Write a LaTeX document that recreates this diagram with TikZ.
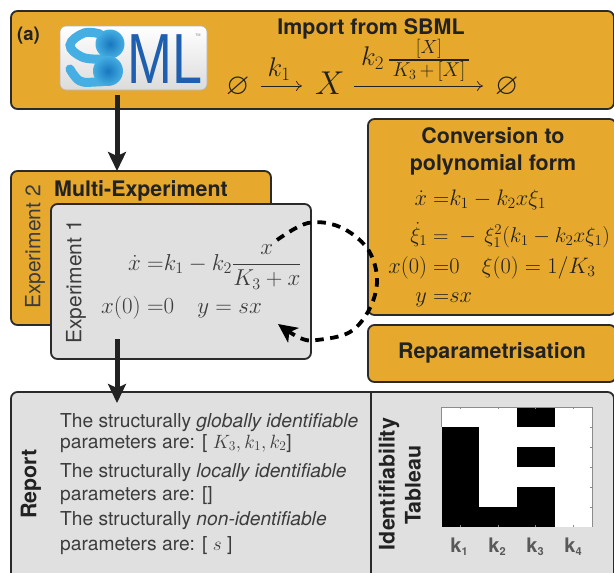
\documentclass[tikz,border=0pt]{standalone}
\usepackage{amsmath,amssymb}
\usepackage{fix-cm}
\usepackage[no-math]{fontspec}
\setmainfont{TeX Gyre Heros}
\newfontfamily\logofont{Liberation Sans}
\usetikzlibrary{arrows.meta,calc}
\definecolor{orangebox}{HTML}{E6A92E}
\definecolor{greybox}{HTML}{E0E0E0}
\definecolor{edge}{HTML}{2A2A2A}
\definecolor{ink}{HTML}{222222}
\definecolor{greyink}{HTML}{3C3C3C}
\definecolor{logoblue}{HTML}{1F5FB0}
\definecolor{logolight}{HTML}{45AEE2}
\definecolor{logodark}{HTML}{1877BE}
\newcommand{\fs}[1]{\fontsize{#1}{#1}\selectfont}
\tikzset{
 box/.style={draw=edge,line width=1.8pt,rounded corners=6.5pt,anchor=north west,inner sep=0pt,outer sep=0pt},
 obox/.style={box,fill=orangebox},
 gbox/.style={box,fill=greybox},
 title/.style={font=\fs{21.4}\bfseries,text=ink,inner sep=0pt,anchor=base},
 eq/.style={font=\fs{22.4},text=ink,inner sep=0pt,anchor=base west},
 geq/.style={font=\fs{23},text=greyink,inner sep=0pt,anchor=base west},
 rep/.style={font=\fs{19.2},text=greyink,inner sep=0pt,anchor=base west},
 exper/.style={font=\fs{21},text=greyink,inner sep=0pt,rotate=90},
 klab/.style={font=\fs{20}\bfseries,text=greyink!85,inner sep=0pt,anchor=base},
 bigarrow/.style={line width=5pt,draw=ink,-{Stealth[length=19pt,width=18pt,inset=4pt]}},
 rxn/.style={line width=.7pt,draw=ink,-{To[length=6pt,width=10pt]}},
 cell/.style={fill=black,draw=none}
}
\begin{document}
\begin{tikzpicture}[x=1pt,y=-1pt]
\clip (0,0) rectangle (614,573);
% boxes
\node[obox,minimum width=603pt,minimum height=98pt] (import) at (11,11) {};
\node[obox,minimum width=260pt,minimum height=154pt] (multi) at (11,171) {};
\node[gbox,minimum width=260pt,minimum height=155pt] (exp) at (51,204) {};
\node[obox,minimum width=248pt,minimum height=196pt] (conv) at (368,119) {};
\node[obox,minimum width=248pt,minimum height=57pt] (repar) at (368,325) {};
\node[gbox,minimum width=603pt,minimum height=195pt] (report) at (11,392) {};
\draw[draw=edge,line width=2.2pt] (371,392) -- (371,573);
% header
\node[font=\fs{18.5}\bfseries,text=ink,inner sep=0pt,anchor=base west] (a) at (17,40) {(a)};
\node[title] (ttl) at (371,34) {Import from SBML};
% logo
\shade[top color=white,bottom color=black!14,draw=black!30,line width=.6pt,rounded corners=6pt] (60,26) rectangle (207,90);
\node[inner sep=0pt,outer sep=0pt,minimum width=147pt,minimum height=64pt,anchor=north west] (logo) at (60,26) {};
\draw[logolight,line width=9pt,line cap=round] plot[smooth,tension=.7] coordinates {(100,34) (84,33) (70,45) (82,57) (100,59)};
\draw[logolight,line width=9pt,line cap=round] plot[smooth,tension=.7] coordinates {(70,69) (80,81) (96,82) (108,81)};
\shade[inner color=logodark,outer color=logolight] (110,44) circle (14.5);
\shade[inner color=logodark,outer color=logolight] (108,71) circle (15);
\node[font=\logofont\fs{71},text=logoblue,inner sep=0pt,xscale=.76,anchor=base west] (ml) at (127,83) {ML};
\node[font=\fs{3.5},text=black!50,inner sep=0pt] (tm) at (198,35) {TM};
% reaction
\node[eq,font=\fs{30}] (e1) at (226,94) {$\varnothing$};
\node[eq,font=\fs{33}] (X) at (315,94) {$X$};
\node[eq,font=\fs{30}] (e2) at (495,94) {$\varnothing$};
\coordinate (r1a) at (261,86);
\coordinate (r1b) at (302,86);
\draw[rxn] (r1a) -- (r1b);
\node[font=\fs{27},text=ink,inner sep=0pt,anchor=base] (k1) at (279,76) {$k_1$};
\coordinate (r2a) at (354,86);
\coordinate (r2b) at (483,86);
\draw[rxn] (r2a) -- (r2b);
\node[font=\fs{27},text=ink,inner sep=0pt,anchor=base west] (k2) at (361,65) {$k_2$};
\node[font=\fs{19},text=ink,inner sep=0pt,anchor=base] (k2n) at (429,53.5) {$[X]$};
\node[font=\fs{20},text=ink,inner sep=0pt,anchor=base] (k2d) at (429,76.5) {$K_3\,{+}\,[X]$};
\draw[ink,line width=1.6pt] (389,60) -- (469,60);
% multi-experiment
\node[title,anchor=base west] (mt) at (54,196) {Multi-Experiment};
\node[exper] (ex2) at (35,247) {Experiment 2};
\node[exper] (ex1) at (76,282) {Experiment 1};
\node[geq] (q1) at (147,270) {\llap{$\dot x$\;}$\mathord{=}k_1-k_2\dfrac{x}{K_3+x}$};
\node[geq] (q2) at (147,313) {\llap{$x(0)$\;}$\mathord{=}0\quad y=sx$};
% conversion
\node[title] (c1) at (493,143) {Conversion to};
\node[title] (c2) at (493,170) {polynomial form};
\node[eq] (p1) at (433,205) {\llap{$\dot x$\;}$\mathord{=}k_1-k_2x\xi_1$};
\node[eq,font=\fs{21.4}] (p2) at (433,242) {\llap{$\dot\xi_1$\;}$\mathord{=}\;-\,\xi_1^2(k_1-k_2x\xi_1)$};
\node[eq] (p3) at (433,273) {\llap{$x(0)$\;}$\mathord{=}0\quad\xi(0)=1/K_3$};
\node[eq] (p4) at (433,302) {\llap{$y$\;}$\mathord{=}sx$};
\node[title] (rp) at (492,358) {Reparametrisation};
% report
\node[title,rotate=90,anchor=center] (rl) at (31,484) {Report};
\node[rep] (t1) at (60,427) {The structurally \textit{globally identifiable}};
\node[rep] (t2) at (60,448) {parameters are: [ $K_3,k_1,k_2$]};
\node[rep] (t3) at (60,477) {The structurally \textit{locally identifiable}};
\node[rep] (t4) at (60,500) {parameters are: []};
\node[rep] (t5) at (60,525) {The structurally \textit{non-identifiable}};
\node[rep] (t6) at (60,550) {parameters are: [ $s$ ]};
% tableau
\node[title,rotate=90,anchor=center] (id1) at (389,484) {Identifiability};
\node[title,rotate=90,anchor=center] (id2) at (413,485) {Tableau};
\fill[white] (441.5,407) rectangle (592,527);
\fill[cell] (441.5,427) rectangle (479,527);
\fill[cell] (479,507) rectangle (517,527);
\fill[cell] (517,407) rectangle (554.5,427);
\fill[cell] (517,447) rectangle (554.5,467);
\fill[cell] (517,487) rectangle (554.5,527);
\draw[black!45,line width=.5pt] (441.5,407) -- (592,407) -- (592,527) (441.5,407) -- (441.5,427);
\foreach \i in {427,447,467,487,507} \draw[black!45,line width=.4pt] (590,\i) -- (592,\i);
\foreach \i in {460,498,535,573} {\draw[black!45,line width=.4pt] (\i,407) -- (\i,409); \draw[black!45,line width=.4pt] (\i,525) -- (\i,527);}
\node[klab] (k_1) at (459,552) {k\raisebox{-3pt}{\fs{11}1}};
\node[klab] (k_2) at (497,552) {k\raisebox{-3pt}{\fs{11}2}};
\node[klab] (k_3) at (535,552) {k\raisebox{-3pt}{\fs{11}3}};
\node[klab] (k_4) at (573,552) {k\raisebox{-3pt}{\fs{11}4}};
% connectors
\coordinate (a1) at (117,95);
\coordinate (a2) at (117,339);
\coordinate (a2e) at (117,403);
\draw[bigarrow] (a1) -- (a1 |- multi.north);
\draw[bigarrow] (a2) -- (a2e);
\draw[draw=black,line width=3.8pt,dash pattern=on 8.5pt off 6.5pt,-{Stealth[length=19pt,width=18pt,inset=5pt]}]
 plot[smooth,tension=.6] coordinates {(277,240) (308,223) (340,227) (367,248) (377,278) (370,308) (350,332) (317,340) (300,338) (278,324)};
\end{tikzpicture}
\end{document}
